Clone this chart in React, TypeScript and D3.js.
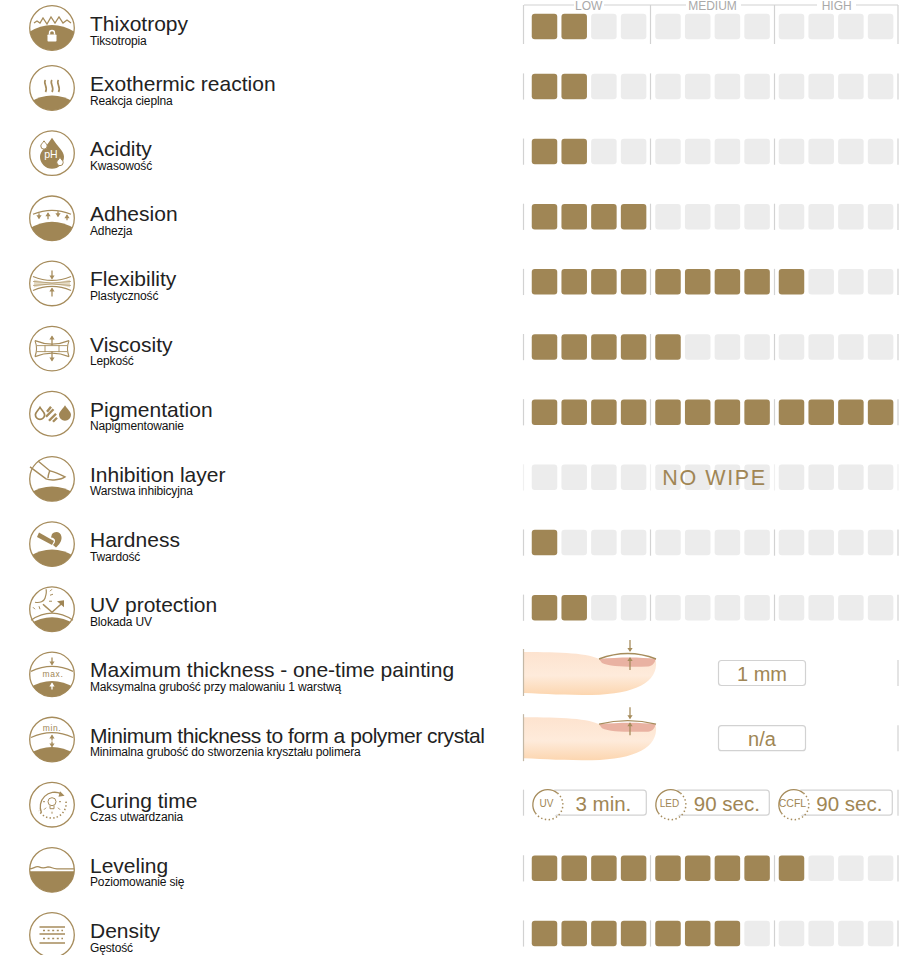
import React from "react";
import * as d3 from "d3";

const propertyNames = ["Thixotropy","Exothermic reaction","Acidity","Adhesion","Flexibility","Viscosity","Pigmentation","Inhibition layer","Hardness","UV protection","Maximum thickness - one-time painting","Minimum thickness to form a polymer crystal","Curing time","Leveling","Density"];
const polishNames = ["Tiksotropia","Reakcja cieplna","Kwasowość","Adhezja","Plastyczność","Lepkość","Napigmentowanie","Warstwa inhibicyjna","Twardość","Blokada UV","Maksymalna grubość przy malowaniu 1 warstwą","Minimalna grubość do stworzenia kryształu polimera","Czas utwardzania","Poziomowanie się","Gęstość"];
const levels: (number | null)[] = [2,2,2,4,9,5,12,0,1,2,null,null,null,9,7];
const bands = ["LOW","MEDIUM","HIGH"];
const cellsPerBand = [0,1,2,3];
const thicknessLabels: Record<number,string> = {10:"1 mm",11:"n/a"};
const curingLamps = ["UV","LED","CCFL"];
const curingTimes = ["3 min.","90 sec.","90 sec."];
const noWipeRow = 7;

const GOLD = "#a08655";
const STROKE = "#a68c5c";
const EMPTY = "#ececec";
const FONT = "'Liberation Sans', Arial, sans-serif";

const rowY = d3.scaleLinear().domain([0,1,14]).range([28,88,935]);
const bandX = d3.scaleBand<string>().domain(bands).range([532,902.5]).paddingInner(0);
const cellX = d3.scaleBand<number>().domain(cellsPerBand).range([0,118.8]);
const lampX = d3.scaleBand<string>().domain(curingLamps).range([531,900]);

const Dome = ({y}:{y:number}) => <path d={`M-23 ${y+7} Q0 ${y-7} 23 ${y+7} V24 H-23 Z`} fill={GOLD} clipPath="url(#iconClip)"/>;
const L = (p:any) => <path fill="none" stroke={STROKE} strokeWidth={1.2} {...p}/>;
const ArrowV = ({x=0,y1,y2,c=STROKE}:{x?:number,y1:number,y2:number,c?:string}) => {
  const d = y2>y1?1:-1;
  return <g><path d={`M${x} ${y1}V${y2}`} stroke={c} strokeWidth={1.3}/><path d={`M${x-2.6} ${y2-3*d}L${x+2.6} ${y2-3*d}L${x} ${y2+d}Z`} fill={c}/></g>;
};
const drop = (x:number,y:number,r:number)=>`M${x} ${y-r*1.5}C${x+r*.5} ${y-r*.7} ${x+r} ${y-r*.4} ${x+r} ${y+r*.1}A${r} ${r} 0 1 1 ${x-r} ${y+r*.1}C${x-r} ${y-r*.4} ${x-r*.5} ${y-r*.7} ${x} ${y-r*1.5}Z`;

const icons: React.ReactNode[] = [
  <g><L strokeWidth={1.3} d="M-18 -5L-15 -7L-12 -5L-9 -10L-5 -4L-1 -11L3 -5L7 -11L11 -5L15 -8L19 -5"/><Dome y={-3}/><rect x={-4.5} y={6.5} width={9} height={7} rx={0.8} fill="#fff"/><path d="M-2.5 6.5V5A2.5 2.5 0 0 1 2.5 5V6.5" fill="none" stroke="#fff" strokeWidth={1.4}/></g>,
  <g><L strokeWidth={1.7} d="M-6.5 -8C-9.5 -5 -3.5 -1 -6.5 4M0 -8C-3 -5 3 -1 0 4M6.5 -8C3.5 -5 9.5 -1 6.5 4"/><Dome y={7.5}/></g>,
  <g><path d={drop(0,2.5,12)} fill={GOLD}/><path d={drop(-8,-7.5,3.2)} fill="#fff" stroke={GOLD}/><path d={drop(8,9,3.2)} fill="#fff" stroke={GOLD}/><text x={-1} y={5} textAnchor="middle" fontSize={10.5} fill="#fff" fontFamily={FONT}>pH</text></g>,
  <g><L d="M-19 -4Q0 -12 19 -4"/><ArrowV x={-13} y1={-5} y2={0}/><ArrowV x={-4} y1={1} y2={-5}/><ArrowV x={6} y1={-7} y2={-2}/><ArrowV x={15} y1={2} y2={-3}/><Dome y={3.5}/></g>,
  <g><path d="M-18 -4Q0 2 18 -4V4Q0 -2 -18 4Z" fill="#e6dcc6"/><L d="M-19 -7Q0 1 19 -7M-19 7Q0 -1 19 7"/><L d="M-19 -2Q0 1 19 -2M-19 2Q0 -1 19 2" strokeWidth={0.7}/><ArrowV y1={-13} y2={-5}/><ArrowV y1={13} y2={5}/></g>,
  <g><L d="M-17 -8Q0 -1 17 -8M-17 8Q0 1 17 8"/><L d="M-17 -8Q-14 0 -17 8M17 -8Q14 0 17 8" strokeWidth={1.1}/><L d="M-7 -3.5V3.5M7 -3.5V3.5M-15 -3H15M-15 3H15" strokeWidth={0.9}/><ArrowV y1={-3} y2={-12}/><ArrowV y1={3} y2={12}/></g>,
  <g><path d={drop(-12,0.5,4.6)} fill="none" stroke={GOLD} strokeWidth={1.7}/><L strokeWidth={2.4} d="M-5 -2L-1 -7M-6 3L1.5 -4.5M-3 7L4 0M1 8L5 4"/><path d={drop(13,0.5,6)} fill={GOLD}/></g>,
  <g><L strokeWidth={1.4} d="M-14 -18L-2 -8C3 -7 9 -4 13 -2C9 1 -1 2 -6 0L-22 -12M-2 -9C-3 -6 -4 -4 -4 -1"/><Dome y={7.5}/></g>,
  <g><path d="M-15 -13L-13 -17.5L2 -9L0 -5Z" fill={GOLD} transform="translate(0,6)"/><path d="M0 -10C3 -13.5 9 -12.5 9.5 -7C10 -3 7 1 4 3.5L1 1C4 -2 4 -6 -1 -6.5Z" fill={GOLD}/><Dome y={5.5}/></g>,
  <g><L d="M-17 -7C-12 -6 -8 -8 -7 -11C-6 -14 -5 -17 -6 -20"/><L d="M-19 -2L-17 0M-13 -3L-12 0M-7 -3L-5 -1M-3 -8L0 -8M-2 -14L1 -15M-2 -18L0 -20" strokeWidth={1}/><L strokeWidth={1.6} d="M-9 -5L0 3L10 -6"/><path d="M5 -8L12 -9L12 -2Z" fill={GOLD}/><L d="M-21 11Q0 -3 21 11"/><Dome y={8}/></g>,
  <g><ArrowV y1={-17} y2={-10}/><L d="M-21 -3Q0 -13 21 -3"/><text x={1} y={3} textAnchor="middle" fontSize={8.5} letterSpacing={0.6} fill={GOLD} fontFamily={FONT}>max.</text><Dome y={6.5}/><ArrowV y1={15} y2={9} c="#fff"/></g>,
  <g><text x={0} y={-9} textAnchor="middle" fontSize={8.5} letterSpacing={0.6} fill={GOLD} fontFamily={FONT}>min.</text><L d="M-21 -2Q0 -12 21 -2"/><Dome y={7.5}/><ArrowV y1={1} y2={-4}/><ArrowV y1={2} y2={7}/></g>,
  <g><L d="M-10.5 8A14.5 14.5 0 0 1 9 -11" strokeWidth={1.3}/><path d="M8 -13.5L12.5 -9L6.5 -8Z" fill={STROKE}/><L d="M14 -3A14.5 14.5 0 0 1 -13 6" strokeDasharray="1.4 2.2" strokeWidth={1.6}/><circle cx={0} cy={-3} r={4} fill="none" stroke={STROKE}/><L d="M-2 1V4H2V1M-7 -3H-9M7 -3H9M-6 3L-8 5M6 3L8 5M0 7V9" strokeWidth={1}/></g>,
  <g><path d="M-23 1.5H23V24H-23Z" fill={GOLD} clipPath="url(#iconClip)"/><L clipPath="url(#iconClip)" strokeWidth={1.3} d="M-23 -1C-18 -1 -17 -4 -13 -3C-9 -1 -7 -2 -4 -3C0 -3 0 -1 5 -1H23"/></g>,
  <g><L d="M-12.5 -8H13M-12.5 -1H13M-12.5 8H13" strokeWidth={1.7}/><L d="M-9 -4.5H11M-9 3.5H11" strokeDasharray="2 2.6" strokeWidth={1.7}/></g>,
];

const Squares = ({row}:{row:number}) => {
  const y = rowY(row) - 1.6;
  const lvl = levels[row] as number;
  const cells = bands.flatMap((b,bi)=>cellsPerBand.map((c,ci)=>({x:(bandX(b) as number)+(cellX(c) as number),n:bi*4+ci})));
  return <g>{cells.map(c=><rect key={c.n} x={c.x-0.25} y={y-12.75} width={25.5} height={25.5} rx={3} fill={c.n<lvl?GOLD:EMPTY}/>)}</g>;
};

const Ticks = ({row}:{row:number}) => {
  const y = rowY(row);
  const col = row===noWipeRow?"#f0f0f0":"#d2d2d2";
  const xs = [523.5,650.5,774.5,898];
  const [y1,y2] = row===0?[5,44]:[y-14.6,y+11.6];
  return <g>{xs.map(x=><line key={x} x1={x} x2={x} y1={y1} y2={y2} stroke={col} strokeWidth={1.2}/>)}</g>;
};

const Finger = ({row}:{row:number}) => {
  const y = rowY(row)-674.4;
  const max = row===10;
  return <g transform={`translate(0,${y})`}>
    <path d="M524 652C560 652 590 653 601 660C620 664 640 664 656 661C658 682 636 694 592 695C565 695 545 694 524 693Z" fill="url(#skin)"/>
    <path d="M599 659C620 657 640 657 656 659C654 664 652 666 648 666.5C630 667 610 667 602 663Z" fill="#e9b2a2"/>
    <path d={max?"M599 659Q628 648 656 659":"M599 659Q628 652 656 659"} fill="none" stroke={STROKE} strokeWidth={1.4}/>
    <ArrowV x={630} y1={max?640:642} y2={max?651:653}/>
    <ArrowV x={630} y1={670} y2={658}/>
    <line x1={523.5} x2={523.5} y1={649} y2={696} stroke="#c4b8a6" strokeWidth={1.2}/>
    <line x1={898} x2={898} y1={660} y2={686} stroke="#d2d2d2" strokeWidth={1.2}/>
    <rect x={718.5} y={660.5} width={87} height={25} rx={3} fill="#fff" stroke="#d2d2d2" strokeWidth={1.2}/>
    <text x={762} y={681} textAnchor="middle" fontSize={20} fill={GOLD} fontFamily={FONT}>{thicknessLabels[row]}</text>
  </g>;
};

const Curing = ({row}:{row:number}) => {
  const cy = rowY(row);
  return <g>
    <line x1={523.5} x2={523.5} y1={cy-15} y2={cy+11} stroke="#d2d2d2" strokeWidth={1.2}/>
    <line x1={898} x2={898} y1={cy-15} y2={cy+11} stroke="#d2d2d2" strokeWidth={1.2}/>
    {curingLamps.map((l,i)=>{
      const x0 = lampX(l) as number;
      const cx = x0+15.5;
      const right = x0+115.3;
      return <g key={l}>
        <rect x={cx+6} y={cy-14.5} width={right-cx-6} height={25} rx={3} fill="#fff" stroke="#d2d2d2" strokeWidth={1.2}/>
        <circle cx={cx} cy={cy-1.5} r={15} fill="#fff"/>
        <path d={`M${cx+11} ${cy-11.5}A15 15 0 0 0 ${cx-11} ${cy+8.5}`} fill="none" stroke={STROKE} strokeWidth={1.3}/>
        <path d={`M${cx+11} ${cy-11.5}A15 15 0 1 1 ${cx-11} ${cy+8.5}`} fill="none" stroke={STROKE} strokeWidth={1.5} strokeDasharray="1.4 2.4"/>
        <text x={cx} y={cy+2} textAnchor="middle" fontSize={l==="CCFL"?10.5:10} fill={GOLD} fontFamily={FONT}>{l}</text>
        <text x={(cx+right)/2+[7,7.5,7][i]} y={cy+6} textAnchor="middle" fontSize={20.5} fill={GOLD} fontFamily={FONT}>{curingTimes[i]}</text>
      </g>;
    })}
  </g>;
};

const App = () => (
  <svg width={919} height={955} viewBox="0 0 919 955" style={{position:"absolute",left:0,top:0,background:"#fff"}}>
    <defs>
      <clipPath id="iconClip"><circle r={22.3}/></clipPath>
      <linearGradient id="skin" x1="0" x2="0" y1="0" y2="1">
        <stop offset="0" stopColor="#fde3cf"/><stop offset="0.55" stopColor="#feebdb"/><stop offset="1" stopColor="#fcd6b0"/>
      </linearGradient>
    </defs>
    {propertyNames.map((name,i)=>{
      const y = rowY(i);
      return <g key={name}>
        <g transform={`translate(52,${y})`}>
          <circle r={22.3} fill="#fff" stroke={STROKE} strokeWidth={1.3}/>
          {icons[i]}
        </g>
        <text x={90} y={y+3} fontSize={21} fill="#222" fontFamily={FONT} letterSpacing={i===11?-0.46:0}>{name}</text>
        <text x={90} y={y+16.5} fontSize={12} fill="#111" fontFamily={FONT} letterSpacing={-0.15}>{polishNames[i]}</text>
        {levels[i]!==null && <Ticks row={i}/>}
        {levels[i]!==null && <Squares row={i}/>}
        {i===noWipeRow && <text x={714.5} y={y+6.5} textAnchor="middle" fontSize={21.5} letterSpacing={1.6} fill={GOLD} fontFamily={FONT}>NO WIPE</text>}
        {i in thicknessLabels && <Finger row={i}/>}
        {i===12 && <Curing row={i}/>}
      </g>;
    })}
    <path d="M524 5H574M604 5H686M741 5H817M856 5H898" stroke="#d2d2d2" strokeWidth={1.2} fill="none"/>
    {bands.map((b,i)=><text key={b} x={(bandX(b) as number)+[56.7,57,57.7][i]} y={10} textAnchor="middle" fontSize={12} fill="#a9a9a9" fontFamily={FONT}>{b}</text>)}
  </svg>
);

export default App;
